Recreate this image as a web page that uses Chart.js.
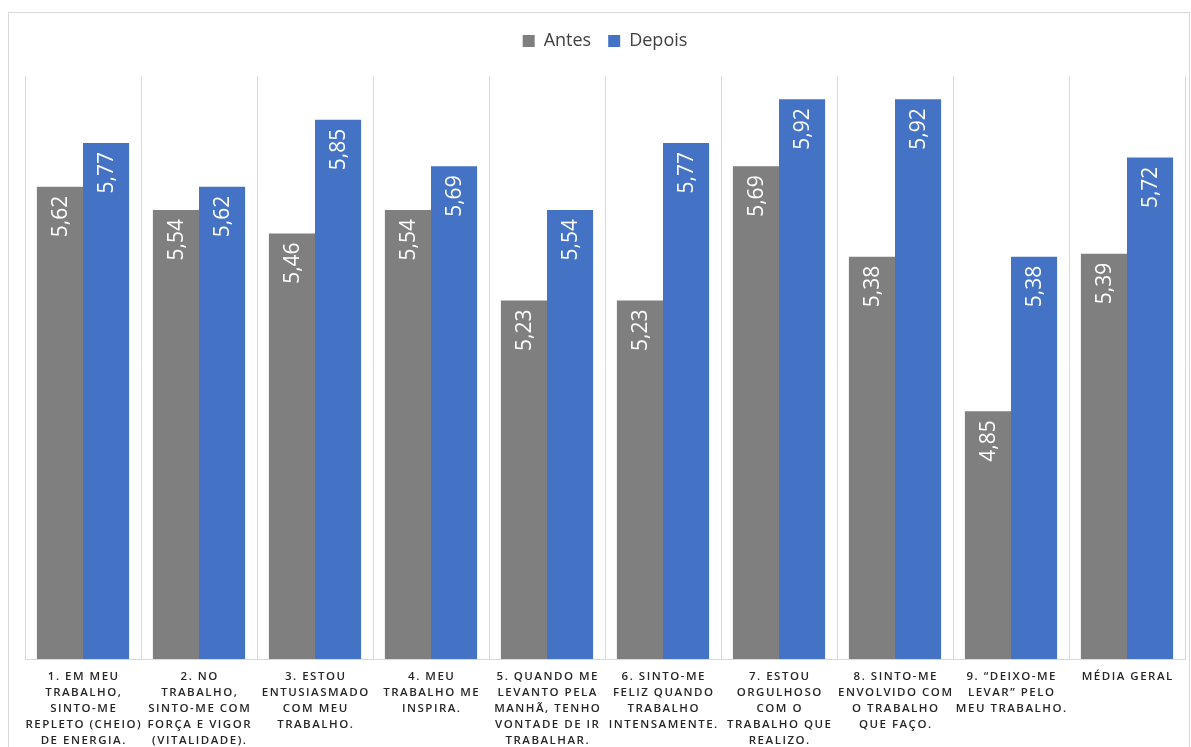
<!DOCTYPE html>
<html>
<head>
<meta charset="utf-8">
<script src="https://cdn.jsdelivr.net/npm/chart.js@4.4.1/dist/chart.umd.min.js"></script>
<style>
  html, body { margin: 0; padding: 0; background: #ffffff; }
  #wrap { width: 1191px; height: 747px; }
</style>
</head>
<body>
<div id="wrap"><canvas id="c" width="1191" height="747"></canvas></div>
<script>
// Category labels, one entry per line of the axis text
const categories = [
  ["1. EM MEU", "TRABALHO,", "SINTO-ME", "REPLETO (CHEIO)", "DE ENERGIA."],
  ["2. NO", "TRABALHO,", "SINTO-ME COM", "FORÇA E VIGOR", "(VITALIDADE)."],
  ["3. ESTOU", "ENTUSIASMADO", "COM MEU", "TRABALHO."],
  ["4. MEU", "TRABALHO ME", "INSPIRA."],
  ["5. QUANDO ME", "LEVANTO PELA", "MANHÃ, TENHO", "VONTADE DE IR", "TRABALHAR."],
  ["6. SINTO-ME", "FELIZ QUANDO", "TRABALHO", "INTENSAMENTE."],
  ["7. ESTOU", "ORGULHOSO", "COM O", "TRABALHO QUE", "REALIZO."],
  ["8. SINTO-ME", "ENVOLVIDO COM", "O TRABALHO", "QUE FAÇO."],
  ["9. “DEIXO-ME", "LEVAR” PELO", "MEU TRABALHO."],
  ["MÉDIA GERAL"]
];

const antes  = [5.62, 5.54, 5.46, 5.54, 5.23, 5.23, 5.69, 5.38, 4.85, 5.39];
const depois = [5.77, 5.62, 5.85, 5.69, 5.54, 5.77, 5.92, 5.92, 5.38, 5.72];

const seriesNames = ["Antes", "Depois"];
const yMin = 4;
const yMax = 6;

const fmt = v => v.toFixed(2).replace(".", ",");

// Outer frame of the chart
const framePlugin = {
  id: "frame",
  beforeDraw(chart) {
    const ctx = chart.ctx;
    ctx.save();
    ctx.fillStyle = "#ffffff";
    ctx.fillRect(0, 0, chart.width, chart.height);
    ctx.strokeStyle = "#d9d9d9";
    ctx.lineWidth = 1;
    ctx.strokeRect(8.5, 12.5, chart.width - 10, chart.height - 12);
    ctx.restore();
  }
};

// Extra gap between the legend and the plot area
const legendGapPlugin = {
  id: "legendGap",
  beforeInit(chart) {
    const origFit = chart.legend.fit;
    chart.legend.fit = function () {
      origFit.call(this);
      this.height += 16;
    };
  }
};

// Vertical value labels at the inside end of each bar
const barLabelPlugin = {
  id: "barLabels",
  afterDatasetsDraw(chart) {
    const ctx = chart.ctx;
    ctx.save();
    ctx.fillStyle = "#ffffff";
    ctx.font = "21px 'Open Sans', sans-serif";
    ctx.textAlign = "right";
    ctx.textBaseline = "middle";
    chart.data.datasets.forEach((ds, di) => {
      const meta = chart.getDatasetMeta(di);
      meta.data.forEach((bar, i) => {
        ctx.save();
        ctx.translate(bar.x + 1, bar.y + 9);
        ctx.rotate(-Math.PI / 2);
        ctx.fillText(fmt(ds.data[i]), 0, 0);
        ctx.restore();
      });
    });
    ctx.restore();
  }
};

// Multi-line, letter-spaced category labels under the axis
const catLabelPlugin = {
  id: "catLabels",
  afterDraw(chart) {
    const ctx = chart.ctx;
    const xs = chart.scales.x;
    const spacing = 1.5;
    ctx.save();
    ctx.fillStyle = "#262626";
    ctx.font = "600 11.5px 'Open Sans', sans-serif";
    ctx.letterSpacing = spacing + "px";
    ctx.textAlign = "center";
    ctx.textBaseline = "middle";
    categories.forEach((lines, i) => {
      const x = xs.getPixelForTick(i) + spacing / 2;
      lines.forEach((line, j) => {
        ctx.fillText(line, x, chart.chartArea.bottom + 18 + j * 16);
      });
    });
    ctx.restore();
  }
};

new Chart(document.getElementById("c"), {
  type: "bar",
  data: {
    labels: categories,
    datasets: [
      { label: seriesNames[0], data: antes, backgroundColor: "#7f7f7f" },
      { label: seriesNames[1], data: depois, backgroundColor: "#4472c4" }
    ]
  },
  options: {
    responsive: false,
    animation: false,
    devicePixelRatio: 1,
    layout: { padding: { left: 25, right: 6, top: 15, bottom: 88 } },
    datasets: {
      bar: { categoryPercentage: 0.795, barPercentage: 1.0 }
    },
    scales: {
      x: {
        grid: { display: true, offset: true, color: "#d9d9d9", lineWidth: 1, drawTicks: false },
        border: { display: true, color: "#d9d9d9", width: 1 },
        ticks: { display: false }
      },
      y: {
        display: false,
        min: yMin,
        max: yMax
      }
    },
    plugins: {
      legend: {
        position: "top",
        labels: {
          boxWidth: 12,
          boxHeight: 12,
          padding: 17,
          color: "#404040",
          font: { family: "'Open Sans', sans-serif", size: 18 }
        }
      },
      tooltip: { enabled: false }
    }
  },
  plugins: [framePlugin, legendGapPlugin, barLabelPlugin, catLabelPlugin]
});
</script>
</body>
</html>
